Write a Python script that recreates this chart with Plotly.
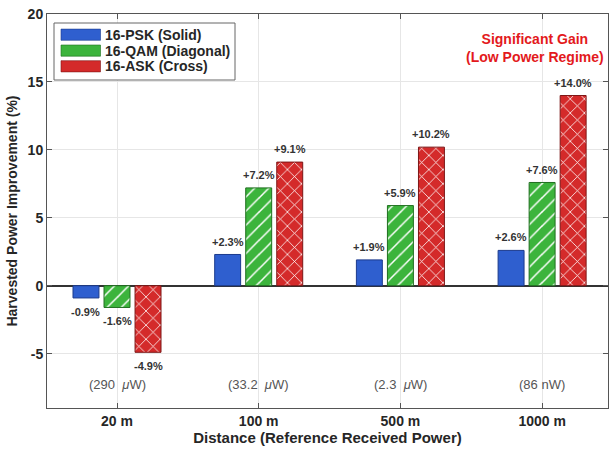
import plotly.graph_objects as go

distances = ["20 m", "100 m", "500 m", "1000 m"]
ref_power = ["(290  <i>μ</i>W)", "(33.2  <i>μ</i>W)", "(2.3  <i>μ</i>W)", "(86 nW)"]
psk = [-0.9, 2.3, 1.9, 2.6]
qam = [-1.6, 7.2, 5.9, 7.6]
ask = [-4.9, 9.1, 10.2, 14.0]
y_ticks = [-5, 0, 5, 10, 15, 20]

series_names = ["16-PSK (Solid)", "16-QAM (Diagonal)", "16-ASK (Cross)"]
series_vals = [psk, qam, ask]
colors = ["#2f5fcf", "#3cb43c", "#d42a2a"]
edges = ["#1b3a8c", "#1f6e1f", "#7c1616"]
shapes_pat = ["", "/", "x"]

FONT = "Arial, Liberation Sans, sans-serif"
W, H = 609, 452
ML, MR, MT, MB = 47, 1, 14, 44
PW, PH = W - ML - MR, H - MT - MB


def px_x(px):
    return (px - ML) / PW


def px_y(py):
    return (H - MB - py) / PH


xpos = list(range(len(distances)))
bargap = 0.343
bargroupgap = 0.164
slot = (1 - bargap) / 3

fig = go.Figure()
for k, (name, vals) in enumerate(zip(series_names, series_vals)):
    fig.add_trace(go.Bar(
        x=xpos, y=vals, name=name, showlegend=False,
        marker=dict(color=colors[k], line=dict(color=edges[k], width=1),
                    pattern=dict(shape=shapes_pat[k], fgcolor="white", bgcolor=colors[k],
                                 fillmode="replace", size=10, solidity=0.15)),
        hoverinfo="skip",
    ))

annotations = []
for k, vals in enumerate(series_vals):
    for i, v in enumerate(vals):
        annotations.append(dict(
            x=i + (k - 1) * slot, y=v + (0.95 if v >= 0 else -1.0), xref="x", yref="y",
            text=f"{v:+.1f}%", showarrow=False,
            font=dict(family=FONT, size=11, color="#333333", weight="bold"),
            xanchor="center", yanchor="middle"))
for i, t in enumerate(ref_power):
    annotations.append(dict(
        x=i, y=-7.25, xref="x", yref="y", text=t, showarrow=False,
        font=dict(family=FONT, size=13, color="#555555"),
        xanchor="center", yanchor="middle"))
annotations.append(dict(x=px_x(535), y=px_y(48), xref="paper", yref="paper",
                        text="<b>Significant Gain</b><br><b>(Low Power Regime)</b>",
                        showarrow=False, xanchor="center", yanchor="middle", align="center",
                        font=dict(family=FONT, size=14, color="#e3191c", weight="bold")))

# manual legend (wide solid swatches like the reference)
shapes = [dict(type="rect", xref="paper", yref="paper",
               x0=px_x(54), x1=px_x(235), y0=px_y(80), y1=px_y(23),
               line=dict(color="#666666", width=1), fillcolor="white", layer="above")]
row_y = [34.7, 50.6, 66.3]
for k, name in enumerate(series_names):
    shapes.append(dict(type="rect", xref="paper", yref="paper",
                       x0=px_x(61), x1=px_x(100.5), y0=px_y(row_y[k] + 5.6), y1=px_y(row_y[k] - 5.6),
                       line=dict(color=edges[k], width=0.6), fillcolor=colors[k], layer="above"))
    annotations.append(dict(x=px_x(102.5), y=px_y(row_y[k]), xref="paper", yref="paper",
                            text=name, showarrow=False, xanchor="left", yanchor="middle",
                            font=dict(family=FONT, size=14, color="#262626", weight="bold")))

fig.update_layout(
    width=W, height=H,
    margin=dict(l=ML, r=MR, t=MT, b=MB),
    paper_bgcolor="white", plot_bgcolor="white",
    barmode="group", bargap=bargap, bargroupgap=bargroupgap,
    font=dict(family=FONT, color="#262626"),
    annotations=annotations, shapes=shapes, showlegend=False,
    xaxis=dict(
        tickmode="array", tickvals=xpos, ticktext=distances,
        range=[-0.494, 3.465],
        showline=True, linecolor="#555555", linewidth=1, mirror="ticks",
        ticks="inside", ticklen=5, tickcolor="#555555",
        showgrid=True, gridcolor="#e6e6e6", gridwidth=1,
        tickfont=dict(family=FONT, size=14, color="#262626", weight="bold"),
        title=dict(text="Distance (Reference Received Power)", standoff=4,
                   font=dict(family=FONT, size=15, color="#262626", weight="bold")),
        zeroline=False,
    ),
    yaxis=dict(
        range=[-9, 20], tickmode="array", tickvals=y_ticks,
        ticktext=[str(t) for t in y_ticks],
        showline=True, linecolor="#555555", linewidth=1, mirror="ticks",
        ticks="inside", ticklen=5, tickcolor="#555555",
        showgrid=True, gridcolor="#e6e6e6", gridwidth=1,
        zeroline=True, zerolinecolor="#333333", zerolinewidth=1.5,
        tickfont=dict(family=FONT, size=14, color="#262626", weight="bold"),
        title=dict(text="Harvested Power Improvement (%)", standoff=6,
                   font=dict(family=FONT, size=14, color="#262626", weight="bold")),
    ),
)

fig.write_html("out.html")
